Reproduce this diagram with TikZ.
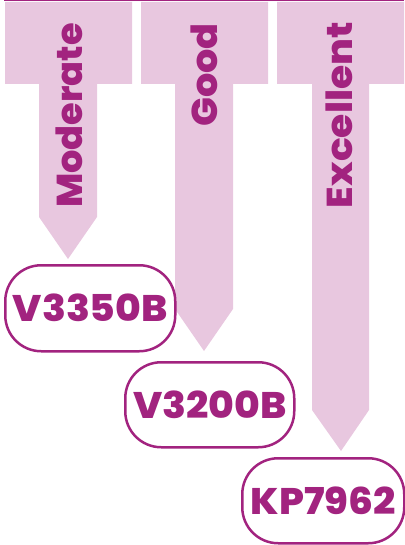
\documentclass[tikz,border=0pt]{standalone}
\usepackage{fontspec}
\IfFontExistsTF{Poppins ExtraBold}
  {\newfontfamily\labfont{Poppins ExtraBold}[FakeStretch=1.06]
   \newfontfamily\vfont{Poppins ExtraBold}}
  {\newfontfamily\labfont{Poppins Bold}[FakeStretch=1.08,FakeBold=1.2]
   \newfontfamily\vfont{Poppins Bold}[FakeBold=1.2]}
\definecolor{pinkfill}{HTML}{E8C7DF}
\definecolor{mag}{HTML}{A2237F}
\begin{document}
\begin{tikzpicture}[x=1pt,y=-1pt,
  arrowshape/.style={fill=pinkfill,draw=none},
  vlabel/.style={text=mag,font=\vfont\fontsize{36}{36}\selectfont,rotate=90,anchor=base east,inner sep=0pt},
  pill/.style={draw=mag,line width=2.5pt,rounded corners=36pt,fill=white,text=mag,
    font=\labfont\fontsize{37}{37}\selectfont,inner sep=0pt,anchor=north west}]
\useasboundingbox (0,0) rectangle (404,545);
% top line
\draw[mag,line width=1.5pt] (4,0.75) -- (404,0.75);
% arrows
\path[arrowshape] (5,2) -- (132,2) -- (132,84) -- (97,84) -- (97,217) -- (68,259) -- (39,217) -- (39,84) -- (5,84) -- cycle;
\path[arrowshape] (141,2) -- (268,2) -- (268,84) -- (233,84) -- (233,309) -- (204,351) -- (175,309) -- (175,84) -- (141,84) -- cycle;
\path[arrowshape] (277,2) -- (404,2) -- (404,84) -- (369,84) -- (369,410) -- (341,451) -- (312,410) -- (312,84) -- (277,84) -- cycle;
% vertical labels
\node[vlabel] (l1) at (82,23) {\scalebox{1.02}[1]{Moderate}};
\node[vlabel] (l2) at (217,23) {\scalebox{1.06}[1]{Good}};
\node[vlabel] (l3) at (352,22) {\scalebox{1.09}[1]{Excellent}};
% pills
\node[pill,minimum width=170pt,minimum height=86pt] (b1) at (4,264) {V3350B};
\node[pill,minimum width=169pt,minimum height=85pt] (b2) at (124,361) {V3200B};
\node[pill,minimum width=162pt,minimum height=85pt] (b3) at (241,457) {KP7962};
\end{tikzpicture}
\end{document}
